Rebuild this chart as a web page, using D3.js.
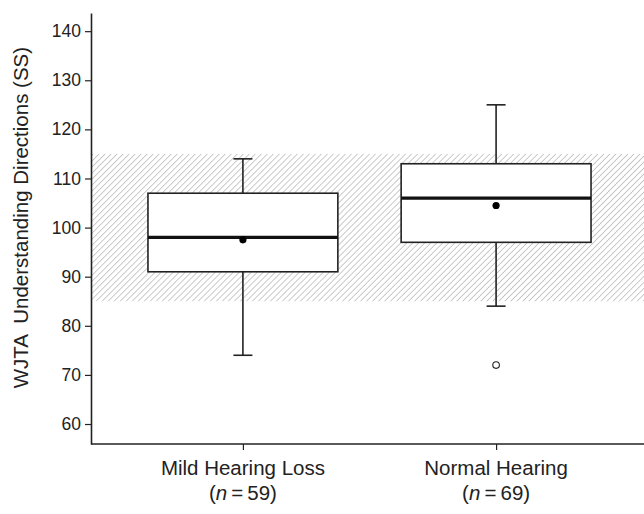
<!DOCTYPE html>
<html>
<head>
<meta charset="utf-8">
<script src="https://cdn.jsdelivr.net/npm/d3@7"></script>
<style>
  body { margin: 0; background: #fff; }
  text { font-family: "Liberation Sans", Arial, sans-serif; fill: #222; }
</style>
</head>
<body>
<div id="chart"></div>
<script>
const groups = ["Mild Hearing Loss", "Normal Hearing"];
const groupN = [59, 69];
const whiskerLow = [74, 84];
const q1 = [91, 97];
const median = [98, 106];
const q3 = [107, 113];
const whiskerHigh = [114, 125];
const means = [97.5, 104.5];
const outliers = [[], [72]];
const normBand = [85, 115];
const yTicks = [60, 70, 80, 90, 100, 110, 120, 130, 140];

const width = 644, height = 514;
const margin = { top: 13, right: 0, bottom: 70, left: 91 };

const svg = d3.select("#chart").append("svg")
  .attr("width", width).attr("height", height);

const y = d3.scaleLinear()
  .domain([55.93, 143.7])
  .range([height - margin.bottom, margin.top]);

const x = d3.scalePoint()
  .domain(groups)
  .range([margin.left, 648])
  .padding(0.6);

const boxW = x.step() * 0.75;
const capW = 19;

// hatch pattern for the average range
const defs = svg.append("defs");
const pat = defs.append("pattern")
  .attr("id", "hatch")
  .attr("patternUnits", "userSpaceOnUse")
  .attr("width", 4.25).attr("height", 4.25)
  .attr("patternTransform", "rotate(45)");
pat.append("line")
  .attr("x1", 0).attr("y1", 0).attr("x2", 0).attr("y2", 4.25)
  .attr("stroke", "#a8a8a8").attr("stroke-width", 1.2);

svg.append("rect")
  .attr("x", margin.left)
  .attr("y", y(normBand[1]))
  .attr("width", width - margin.left)
  .attr("height", y(normBand[0]) - y(normBand[1]))
  .attr("fill", "url(#hatch)");

// boxes
const data = groups.map((g, i) => ({
  g, lo: whiskerLow[i], q1: q1[i], med: median[i], q3: q3[i],
  hi: whiskerHigh[i], mean: means[i], out: outliers[i]
}));

const bx = svg.append("g").selectAll("g").data(data).join("g");

bx.append("line")
  .attr("x1", d => x(d.g)).attr("x2", d => x(d.g))
  .attr("y1", d => y(d.hi)).attr("y2", d => y(d.lo))
  .attr("stroke", "#222").attr("stroke-width", 1.6);

bx.selectAll(".cap").data(d => [d.lo, d.hi].map(v => ({ g: d.g, v })))
  .join("line").attr("class", "cap")
  .attr("x1", d => x(d.g) - capW / 2).attr("x2", d => x(d.g) + capW / 2)
  .attr("y1", d => y(d.v)).attr("y2", d => y(d.v))
  .attr("stroke", "#222").attr("stroke-width", 1.6);

bx.append("rect")
  .attr("x", d => x(d.g) - boxW / 2)
  .attr("y", d => y(d.q3))
  .attr("width", boxW)
  .attr("height", d => y(d.q1) - y(d.q3))
  .attr("fill", "#fff").attr("stroke", "#222").attr("stroke-width", 1.6);

bx.append("line")
  .attr("x1", d => x(d.g) - boxW / 2).attr("x2", d => x(d.g) + boxW / 2)
  .attr("y1", d => y(d.med)).attr("y2", d => y(d.med))
  .attr("stroke", "#111").attr("stroke-width", 3.2);

bx.append("circle")
  .attr("cx", d => x(d.g)).attr("cy", d => y(d.mean))
  .attr("r", 3.6).attr("fill", "#000");

bx.selectAll(".out").data(d => d.out.map(v => ({ g: d.g, v })))
  .join("circle").attr("class", "out")
  .attr("cx", d => x(d.g)).attr("cy", d => y(d.v))
  .attr("r", 3.3).attr("fill", "#fff").attr("stroke", "#222").attr("stroke-width", 1.1);

// axes
const yAxis = svg.append("g")
  .attr("transform", `translate(${margin.left},0)`)
  .call(d3.axisLeft(y).tickValues(yTicks).tickSize(6).tickPadding(4).tickSizeOuter(0));
yAxis.select(".domain").attr("stroke", "#222").attr("stroke-width", 1.6);
yAxis.selectAll(".tick line").attr("stroke", "#222").attr("stroke-width", 1.2);
yAxis.selectAll(".tick text").attr("font-size", 17.5).attr("fill", "#222");

const xAxis = svg.append("g")
  .attr("transform", `translate(0,${height - margin.bottom})`)
  .call(d3.axisBottom(x).tickSize(6).tickSizeOuter(0).tickFormat(() => ""));
xAxis.select(".domain").attr("d", `M${margin.left},0H${width}`)
  .attr("stroke", "#222").attr("stroke-width", 1.6);
xAxis.selectAll(".tick line").attr("stroke", "#222").attr("stroke-width", 1.2);

const labs = svg.append("g").selectAll("g").data(groups).join("g")
  .attr("transform", d => `translate(${x(d)},0)`);
labs.append("text")
  .attr("y", 475).attr("text-anchor", "middle").attr("font-size", 20.5)
  .text(d => d);
const nl = labs.append("text")
  .attr("y", 500).attr("text-anchor", "middle").attr("font-size", 20.5);
nl.append("tspan").text("(");
nl.append("tspan").attr("font-style", "italic").text("n");
nl.append("tspan").text((d, i) => "\u2009=\u2009" + groupN[i] + ")");

svg.append("text")
  .attr("transform", `translate(28,${(y(140) + y(60)) / 2 - 10}) rotate(-90)`)
  .attr("text-anchor", "middle").attr("font-size", 20.5)
  .attr("xml:space", "preserve")
  .text("WJTA  Understanding Directions (SS)");
</script>
</body>
</html>
